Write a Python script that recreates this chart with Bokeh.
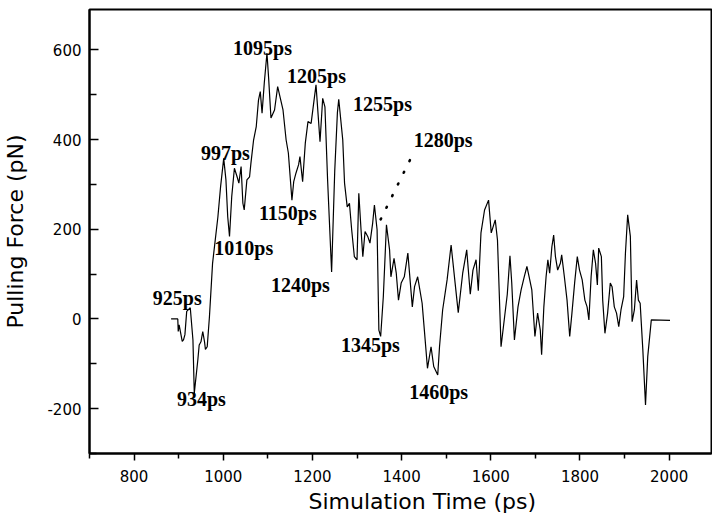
from bokeh.plotting import figure
from bokeh.models import FixedTicker, Range1d, Title
from bokeh.core.properties import value
from bokeh.embed import file_html
from bokeh.resources import INLINE

# ---- data ----
time_ps = [883, 898, 899, 901, 908, 911, 914, 918, 926, 932, 935, 943, 946, 950, 954, 958, 960, 964,
           969, 976, 988, 994, 1001, 1006, 1010, 1014, 1019, 1025, 1031, 1035, 1040, 1044, 1047, 1053,
           1059, 1062, 1068, 1074, 1079, 1083, 1087, 1092, 1098, 1102, 1107, 1115, 1122, 1134, 1141,
           1146, 1154, 1158, 1163, 1169, 1172, 1178, 1184, 1190, 1197, 1208, 1217, 1223, 1228, 1234,
           1243, 1250, 1256, 1259, 1268, 1272, 1278, 1283, 1288, 1294, 1300, 1304, 1309, 1313, 1318,
           1324, 1329, 1335, 1339, 1345, 1349, 1353, 1359, 1366, 1373, 1376, 1383, 1388, 1393, 1399,
           1406, 1414, 1424, 1429, 1436, 1446, 1451, 1458, 1466, 1472, 1481, 1485, 1492, 1502, 1511,
           1520, 1527, 1537, 1546, 1554, 1560, 1567, 1572, 1578, 1586, 1595, 1601, 1610, 1615, 1623,
           1631, 1637, 1643, 1647, 1653, 1661, 1668, 1675, 1681, 1686, 1692, 1699, 1705, 1711, 1714,
           1719, 1724, 1728, 1732, 1737, 1741, 1745, 1750, 1756, 1759, 1765, 1771, 1777, 1782, 1788,
           1794, 1799, 1805, 1811, 1816, 1820, 1825, 1830, 1835, 1839, 1842, 1848, 1851, 1856, 1862,
           1868, 1872, 1877, 1882, 1887, 1892, 1898, 1902, 1907, 1913, 1917, 1922, 1927, 1931, 1935,
           1941, 1947, 1952, 1960, 2002]
force_pn = [0, 0, -28, -13, -50, -46, -35, 17, 25, -47, -166, -91, -58, -51, -28, -51, -68, -62,
            5, 124, 228, 295, 358, 310, 228, 184, 273, 336, 317, 303, 340, 258, 243, 310,
            317, 347, 399, 429, 488, 507, 459, 526, 593, 533, 448, 466, 518, 466, 399,
            370, 265, 306, 325, 344, 362, 306, 392, 440, 436, 522, 395, 492, 473, 310,
            105, 330, 460, 490, 399, 303, 250, 258, 199, 139, 132, 280, 199, 139, 195,
            184, 169, 213, 254, 199, -25, -39, 50, 210, 154, 94, 135, 102, 42, 80,
            94, 147, 27, 72, 94, 35, -25, -110, -62, -106, -125, -62, 20, 87, 165,
            80, 14, 102, 154, 55, 109, 132, 63, 192, 243, 265, 192, 221, 176, -62,
            5, 55, 141, 80, -47, 27, 65, 94, 117, 94, 65, -39, 13, -25, -80,
            27, 94, 132, 102, 161, 187, 139, 109, 124, 143, 94, 42, -39, 13, 80,
            139, 109, 87, 42, 27, -2, 94, 154, 124, 76, 158, 139, 42, -32, 13,
            80, 72, 27, 13, -17, 20, 50, 147, 232, 184, -6, 20, 87, 42, 35,
            -69, -192, -84, -2, -3]

label_text = ["925ps", "934ps", "997ps", "1010ps", "1095ps", "1150ps", "1205ps",
              "1240ps", "1255ps", "1280ps", "1345ps", "1460ps"]
label_x = [842, 896, 950, 980, 1022, 1080, 1143, 1107, 1291, 1427, 1264, 1417]
label_y = [46, -179, 370, 158, 604, 237, 542, 76, 480, 399, -58, -162]

pointer_x = [1353, 1430]
pointer_y = [222, 377]

x_ticks = [800, 1000, 1200, 1400, 1600, 1800, 2000]
x_minor = [700, 900, 1100, 1300, 1500, 1700, 1900, 2100]
y_ticks = [-200, 0, 200, 400, 600]
y_minor = [-300, -100, 100, 300, 500, 700]

# ---- figure ----
p = figure(frame_width=622, frame_height=444,
           x_range=Range1d(700, 2095), y_range=Range1d(-300, 690),
           output_backend="svg", toolbar_location=None,
           min_border_left=85, min_border_top=9, min_border_right=1, min_border_bottom=0)

p.line(time_ps, force_pn, line_color="black", line_width=1.2)
p.line(pointer_x, pointer_y, line_color="black", line_width=2.6, line_dash="1 12",
       line_cap="round")
p.text(x=label_x, y=label_y, text=label_text, text_font=value("Liberation Serif"),
       text_font_style="bold", text_font_size="20px", text_align="left",
       text_baseline="middle", text_color="black")

p.grid.visible = False
p.outline_line_color = "black"
p.outline_line_width = 2
p.background_fill_color = "white"
p.border_fill_color = "white"

p.xaxis.ticker = FixedTicker(ticks=x_ticks, minor_ticks=x_minor)
p.yaxis.ticker = FixedTicker(ticks=y_ticks, minor_ticks=y_minor)
p.yaxis.major_label_overrides = {t: str(t) for t in y_ticks}

for ax in (p.xaxis[0], p.yaxis[0]):
    ax.axis_line_width = 2
    ax.axis_line_color = "black"
    ax.major_tick_line_color = "black"
    ax.minor_tick_line_color = "black"
    ax.major_tick_line_width = 1.5
    ax.minor_tick_line_width = 1.5
    ax.major_label_text_font = "DejaVu Sans"
    ax.major_label_text_font_size = "15px"
    ax.major_label_text_color = "black"
    ax.axis_label_text_font = "DejaVu Sans"
    ax.axis_label_text_font_size = "22px"
    ax.axis_label_text_font_style = "normal"
    ax.axis_label_text_color = "black"

p.xaxis.major_tick_in = 0
p.xaxis.major_tick_out = 7
p.xaxis.minor_tick_in = 0
p.xaxis.minor_tick_out = 5
p.xaxis.major_label_standoff = 9

# x-axis title, placed right of centre as in the reference
x_title = Title(text="Simulation Time (ps)", align="left", offset=219, standoff=4,
                text_font="DejaVu Sans", text_font_size="22px", text_font_style="normal",
                text_color="black")
p.add_layout(x_title, "below")

p.yaxis.axis_label = "Pulling Force (pN)"
p.yaxis.major_tick_in = 9
p.yaxis.major_tick_out = 0
p.yaxis.minor_tick_in = 7
p.yaxis.minor_tick_out = 0
p.yaxis.major_label_standoff = 8
p.yaxis.axis_label_standoff = 16

open("out.html", "w").write(file_html(p, INLINE))
